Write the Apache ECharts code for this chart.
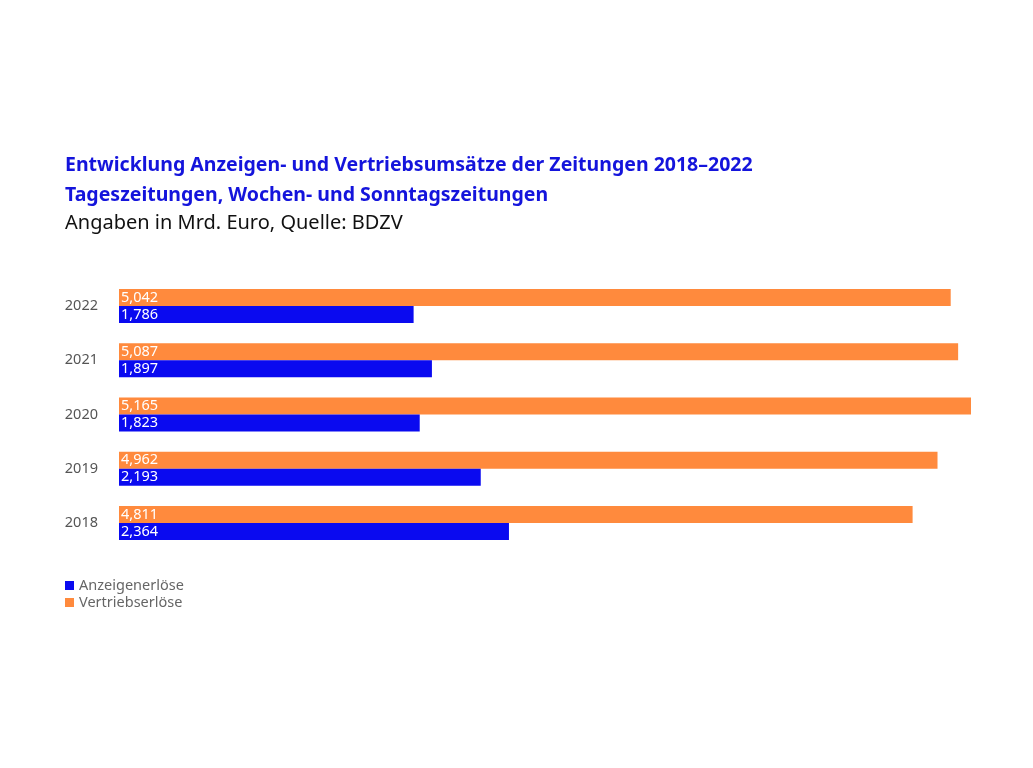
<!DOCTYPE html>
<html><head><meta charset="utf-8">
<script src="https://cdn.jsdelivr.net/npm/echarts@6/dist/echarts.min.js"></script>
<style>html,body{margin:0;padding:0;background:#fff}#c{width:1033px;height:768px}</style>
</head><body><div id="c"></div>
<script>
const years = ['2018','2019','2020','2021','2022'];
const anzeigen = [2.364, 2.193, 1.823, 1.897, 1.786];
const vertrieb = [4.811, 4.962, 5.165, 5.087, 5.042];
const seriesNames = ['Anzeigenerlöse','Vertriebserlöse'];
const titleLines = ['Entwicklung Anzeigen- und Vertriebsumsätze der Zeitungen 2018–2022','Tageszeitungen, Wochen- und Sonntagszeitungen','Angaben in Mrd. Euro, Quelle: BDZV'];

const FONT = '"Noto Sans", sans-serif';
const BLUE = '#0a0af0', ORANGE = '#ff8a3d', TBLUE = '#1414dc';
const chart = echarts.init(document.getElementById('c'));
const fmt = p => p.value.toFixed(3).replace('.', ',');
const lbl = {show:true, position:'insideLeft', distance:2, color:'#fff', fontSize:14.5, fontFamily:FONT, formatter:fmt};
chart.setOption({
  animation:false,
  title:[
    {text:titleLines[0], left:60, top:150, textStyle:{fontFamily:FONT, fontSize:19.5, fontWeight:'bold', color:TBLUE}},
    {text:titleLines[1], left:60, top:180, textStyle:{fontFamily:FONT, fontSize:19.5, fontWeight:'bold', color:TBLUE}},
    {text:titleLines[2], left:60, top:208, textStyle:{fontFamily:FONT, fontSize:20, fontWeight:'normal', color:'#111'}}
  ],
  legend:{orient:'vertical', left:60, top:573, itemWidth:9, itemHeight:9, itemGap:2, icon:'rect',
    textStyle:{fontFamily:FONT, fontSize:14.5, color:'#666'}, data:seriesNames},
  grid:{left:119, right:62, top:279, height:271, containLabel:false},
  xAxis:{type:'value', min:0, max:v=>v.max, show:false},
  yAxis:{type:'category', data:years, axisLine:{show:false}, axisTick:{show:false},
    axisLabel:{color:'#555', fontSize:14.5, fontFamily:FONT, margin:21}},
  series:[
    {name:seriesNames[1], type:'bar', data:vertrieb, barWidth:17, barGap:'0%', itemStyle:{color:ORANGE}, label:lbl},
    {name:seriesNames[0], type:'bar', data:anzeigen, barWidth:17, barGap:'0%', itemStyle:{color:BLUE}, label:lbl}
  ]
});
</script></body></html>
